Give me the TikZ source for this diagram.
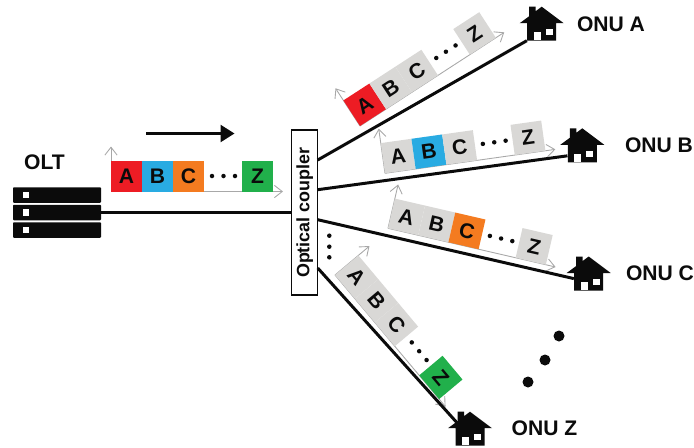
\documentclass[tikz,border=0pt]{standalone}
\usepackage{fontspec}
\setmainfont{Liberation Sans}
\usetikzlibrary{arrows.meta}
\definecolor{cellred}{HTML}{ED1C24}
\definecolor{cellblue}{HTML}{29ABE2}
\definecolor{cellorange}{HTML}{F47B20}
\definecolor{cellgreen}{HTML}{21B04B}
\definecolor{cellgray}{HTML}{D9D8D6}
\definecolor{axisgray}{HTML}{A8A8A8}
\definecolor{inkblack}{HTML}{0B0B0B}
\tikzset{
  cell/.style={minimum width=0.62cm, minimum height=0.61cm, inner sep=0pt, outer sep=0pt, transform shape, font=\fontsize{12}{12}\selectfont\bfseries, text=inkblack},
  pktdot/.style={circle, fill=inkblack, minimum size=4.5*0.02cm, inner sep=0pt},
  bigdot/.style={circle, fill=inkblack, minimum size=11*0.02cm, inner sep=0pt},
  axis/.style={draw=axisgray, line width=0.5pt, -{Straight Barb[length=4.5pt, width=7pt]}},
  fibre/.style={draw=inkblack, line width=1.7pt},
  label/.style={font=\fontsize{12}{12}\selectfont\bfseries, text=inkblack, inner sep=0pt},
  rack/.style={fill=inkblack, rounded corners=0.5pt}
}
\newcommand{\packet}[7]{
  \begin{scope}[shift={#2}, rotate=#3]
    \coordinate (#1o) at (0, 0);
    \coordinate (#1up) at (0, -45);
    \coordinate (#1end) at (172, 0);
    \draw [axis] (#1o) -- (#1up);
    \draw [axis] (#1o) -- (#1end);
    \node (#1a) at (15.5, -15.25) [cell, fill=#4] {A};
    \node (#1b) at (46.5, -15.25) [cell, fill=#5] {B};
    \node (#1c) at (77.5, -15.25) [cell, fill=#6] {C};
    \node (#1z) at (146.5, -15.25) [cell, fill=#7] {Z};
    \foreach \i/\x in {1/101, 2/112.5, 3/124}
      \node (#1d\i) at (\x, -15.5) [pktdot] {};
  \end{scope}
}
\newcommand{\house}[2]{
  \begin{scope}[shift={#2}]
    \node (#1) at (0, 8) [minimum width=29*0.02cm, minimum height=17*0.02cm, inner sep=0pt] {};
    \fill [inkblack] (-22, -1) -- (-14.5, -1) -- (-14.5, 16.5) -- (14.5, 16.5) -- (14.5, -1) -- (22, -1) -- (0, -17.5) -- (-6, -13) -- (-6, -17.5) -- (-12.5, -17.5) -- (-12.5, -8) -- cycle;
    \fill [white] (-8, 8) rectangle (-1, 16);
    \fill [white] (4, 5) rectangle (11, 11);
  \end{scope}
}
\begin{document}
\begin{tikzpicture}[x=0.02cm, y=-0.02cm]
  \useasboundingbox (0, 0) rectangle (694, 447);
  \node (olt) at (44.5, 162) [label] {OLT};
  \node (rack1) at (57, 195) [rack, minimum width=88*0.02cm, minimum height=15.5*0.02cm, inner sep=0pt] {};
  \node (rack2) at (57, 212.5) [rack, minimum width=88*0.02cm, minimum height=15.5*0.02cm, inner sep=0pt] {};
  \node (rack3) at (57, 230) [rack, minimum width=88*0.02cm, minimum height=15.5*0.02cm, inner sep=0pt] {};
  \fill [white] (22.7, 191.7) rectangle (29.3, 198.3);
  \fill [white] (22.7, 209) rectangle (29.3, 215.6);
  \fill [white] (22.7, 226.7) rectangle (29.3, 233.3);
  \node (coupler) at (304.7, 212.5) [draw=inkblack, line width=0.9pt, fill=white, minimum width=26*0.02cm, minimum height=164.5*0.02cm, inner sep=0pt] {};
  \node (couplertext) at (304.7, 212.7) [rotate=90, font=\fontsize{10.2}{12}\selectfont\bfseries, text=inkblack, inner sep=0pt] {Optical coupler};
  \coordinate (starta) at (317.7, 160);
  \coordinate (startb) at (317.7, 189.7);
  \coordinate (startc) at (317.7, 219.7);
  \coordinate (startz) at (317.7, 268);
  \coordinate (flowa) at (146, 133.5);
  \coordinate (flowb) at (234.5, 133.5);
  \draw [draw=inkblack, line width=1.4pt, -{Triangle[length=14*0.02cm, width=17*0.02cm]}] (flowa) -- (flowb);
  \packet{p}{(111, 191.5)}{0}{cellred}{cellblue}{cellorange}{cellgreen}
  \packet{q}{(360, 126)}{33}{cellred}{cellgray}{cellgray}{cellgray}
  \packet{r}{(385, 173.3)}{8}{cellgray}{cellblue}{cellgray}{cellgray}
  \packet{s}{(388, 228.3)}{-13}{cellgray}{cellgray}{cellorange}{cellgray}
  \packet{t}{(335, 275)}{-50}{cellgray}{cellgray}{cellgray}{cellgreen}
  \house{onua}{(541.7, 24.2)}
  \house{onub}{(582.3, 145.8)}
  \house{onuc}{(588.7, 274)}
  \house{onuz}{(470, 429.2)}
  \draw [fibre] (rack2) -- (coupler);
  \draw [fibre] (starta) -- (onua);
  \draw [fibre] (startb) -- (onub);
  \draw [fibre] (startc) -- (onuc);
  \draw [fibre] (startz) -- (onuz);
  \node (labela) at (611, 24) [label] {ONU A};
  \node (labelb) at (659, 145) [label] {ONU B};
  \node (labelc) at (660, 273) [label] {ONU C};
  \node (labelz) at (544.5, 428) [label] {ONU Z};
  \foreach \i/\y in {1/235.7, 2/246.7, 3/257.3}
    \node (vdot\i) at (329.3, \y) [pktdot] {};
  \node (bdot1) at (559, 336) [bigdot] {};
  \node (bdot2) at (545, 360) [bigdot] {};
  \node (bdot3) at (528, 382) [bigdot] {};
\end{tikzpicture}
\end{document}
